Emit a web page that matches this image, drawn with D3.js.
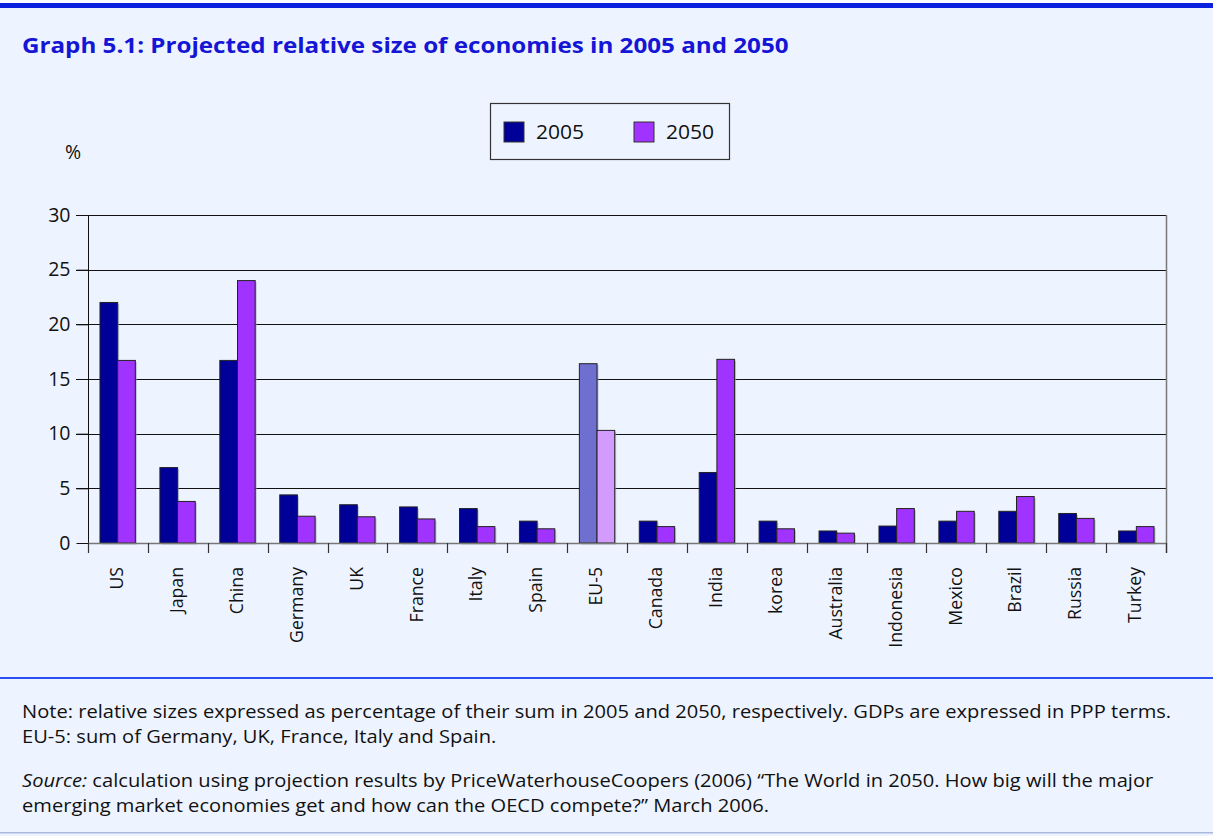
<!DOCTYPE html>
<html><head><meta charset="utf-8">
<script src="https://cdn.jsdelivr.net/npm/d3@7"></script>
<style>
html,body{margin:0;padding:0;background:#fff;}
svg{display:block;}
</style></head>
<body>
<script>
const categories = ["US","Japan","China","Germany","UK","France","Italy","Spain","EU-5","Canada","India","korea","Australia","Indonesia","Mexico","Brazil","Russia","Turkey"];
const series2005 = [22.0,6.9,16.7,4.4,3.5,3.3,3.15,2.0,16.4,2.0,6.45,2.0,1.1,1.55,2.0,2.9,2.7,1.1];
const series2050 = [16.7,3.8,24.0,2.45,2.4,2.2,1.5,1.3,10.3,1.5,16.8,1.3,0.9,3.15,2.9,4.25,2.25,1.5];
const seriesNames = ["2005","2050"];
const yTicks = [0,5,10,15,20,25,30];
const highlight = "EU-5";

(function(){
const W = 1213, H = 836;
const font = "'Open Sans', Lato, sans-serif";
const svg = d3.select("body").append("svg").attr("width", W).attr("height", H);

svg.append("rect").attr("x",0).attr("y",0).attr("width",W).attr("height",H).attr("fill","#eef4ff");
svg.append("rect").attr("x",0).attr("y",0).attr("width",W).attr("height",3).attr("fill","#ffffff");
svg.append("rect").attr("x",0).attr("y",3).attr("width",W).attr("height",5).attr("fill","#0a22e0");

svg.append("text").attr("transform","translate(22,53) scale(1.1,1)").attr("font-family",font).attr("font-weight","bold")
  .attr("font-size",22).attr("fill","#1515d6").text("Graph 5.1: Projected relative size of economies in 2005 and 2050");

const pL = 88, pR = 1166, pT = 215, pB = 543;
const x = d3.scaleBand().domain(categories).range([pL,pR]).paddingInner(0.41).paddingOuter(0.2);
const xb = d3.scaleBand().domain(categories).range([pL,pR]);
const xs = d3.scaleBand().domain(seriesNames).range([0,x.bandwidth()]);
const y = d3.scaleLinear().domain([0,30]).range([pB,pT]);

const g = svg.append("g");
g.selectAll(".grid").data(yTicks.filter(d=>d>0)).join("line")
  .attr("x1",76).attr("x2",pR).attr("y1",d=>Math.round(y(d))+0.5).attr("y2",d=>Math.round(y(d))+0.5)
  .attr("stroke","#111").attr("stroke-width",1.2);
g.append("line").attr("x1",pR+0.5).attr("x2",pR+0.5).attr("y1",pT).attr("y2",pB+10)
  .attr("stroke","#777").attr("stroke-width",1.5);

const yAxis = d3.axisLeft(y).tickValues(yTicks).tickSize(12).tickPadding(6);
const ya = svg.append("g").attr("transform",`translate(${pL+0.5},0)`).call(yAxis);
ya.select(".domain").attr("stroke","#111").attr("d",`M0,${pT}V${pB+10}`);
ya.selectAll(".tick line").attr("stroke","#111");
ya.selectAll(".tick text").attr("font-family",font).attr("font-size",19.5).attr("fill","#111");

svg.append("text").attr("x",65).attr("y",159).attr("font-family",font).attr("font-size",19.5).attr("fill","#111").text("%");

const data = categories.map((c,i)=>({c, v:[series2005[i],series2050[i]]}));
const colors = {"2005":"#000099","2050":"#a033ff"};
const colorsHL = {"2005":"#6f6fd0","2050":"#d49bff"};
const bg = svg.append("g");
data.forEach(d=>{
  seriesNames.forEach((s,j)=>{
    const bx = x(d.c)+xs(s), by = y(d.v[j]), bh = y(0)-y(d.v[j]);
    bg.append("rect").attr("x",bx+1.5).attr("y",by+1.5).attr("width",xs.bandwidth()).attr("height",bh)
      .attr("fill","#9aa0b0").attr("opacity",0.6);
    bg.append("rect").attr("x",bx).attr("y",by).attr("width",xs.bandwidth()).attr("height",bh)
      .attr("fill", d.c===highlight ? colorsHL[s] : colors[s]).attr("stroke","#222").attr("stroke-width",1);
  });
});

const xAxis = d3.axisBottom(xb).tickSize(0).tickPadding(0);
const xa = svg.append("g").attr("transform",`translate(0,${pB})`).call(xAxis);
xa.select(".domain").attr("stroke","#777").attr("stroke-width",1.5).attr("d",`M${pL},0.5H${pR}`);
xa.selectAll(".tick text").attr("font-family",font).attr("font-size",17.7).attr("fill","#111")
  .attr("transform","rotate(-90)").attr("text-anchor","end").attr("dy","0.35em").attr("x",-24).attr("y",-1);
svg.append("g").selectAll("line").data(categories.concat(["__end"])).join("line")
  .attr("x1",(d,i)=>Math.round(pL + i*xb.step())+0.5).attr("x2",(d,i)=>Math.round(pL + i*xb.step())+0.5)
  .attr("y1",pB).attr("y2",pB+10).attr("stroke","#333").attr("stroke-width",1.2);

const lg = svg.append("g");
lg.append("rect").attr("x",490.5).attr("y",103.5).attr("width",239).attr("height",56).attr("fill","none").attr("stroke","#333").attr("stroke-width",1.2);
const legX = [504,634];
seriesNames.forEach((s,j)=>{
  lg.append("rect").attr("x",legX[j]).attr("y",122).attr("width",20).attr("height",20).attr("fill",colors[s]).attr("stroke","#333");
  lg.append("text").attr("transform",`translate(${legX[j]+32},139) scale(1.08,1)`).attr("font-family",font).attr("font-size",19.5).attr("fill","#111").text(s);
});

svg.append("rect").attr("x",0).attr("y",677).attr("width",W).attr("height",2).attr("fill","#2a4ef0");
svg.append("rect").attr("x",0).attr("y",832).attr("width",W).attr("height",1.5).attr("fill","#aab8e0");

const notes = [
  {y:718, parts:[{t:"Note: relative sizes expressed as percentage of their sum in 2005 and 2050, respectively. GDPs are expressed in PPP terms."}]},
  {y:743, parts:[{t:"EU-5: sum of Germany, UK, France, Italy and Spain."}]},
  {y:787, parts:[{t:"Source:",i:true},{t:" calculation using projection results by PriceWaterhouseCoopers (2006) \u201CThe World in 2050. How big will the major"}]},
  {y:812, parts:[{t:"emerging market economies get and how can the OECD compete?\u201D March 2006."}]}
];
notes.forEach(n=>{
  const t = svg.append("text").attr("transform",`translate(22,${n.y}) scale(1.13,1)`).attr("font-family",font).attr("font-size",17.8).attr("fill","#111");
  n.parts.forEach(p=>t.append("tspan").attr("font-style",p.i?"italic":"normal").text(p.t));
});
})();
</script>
</body></html>
